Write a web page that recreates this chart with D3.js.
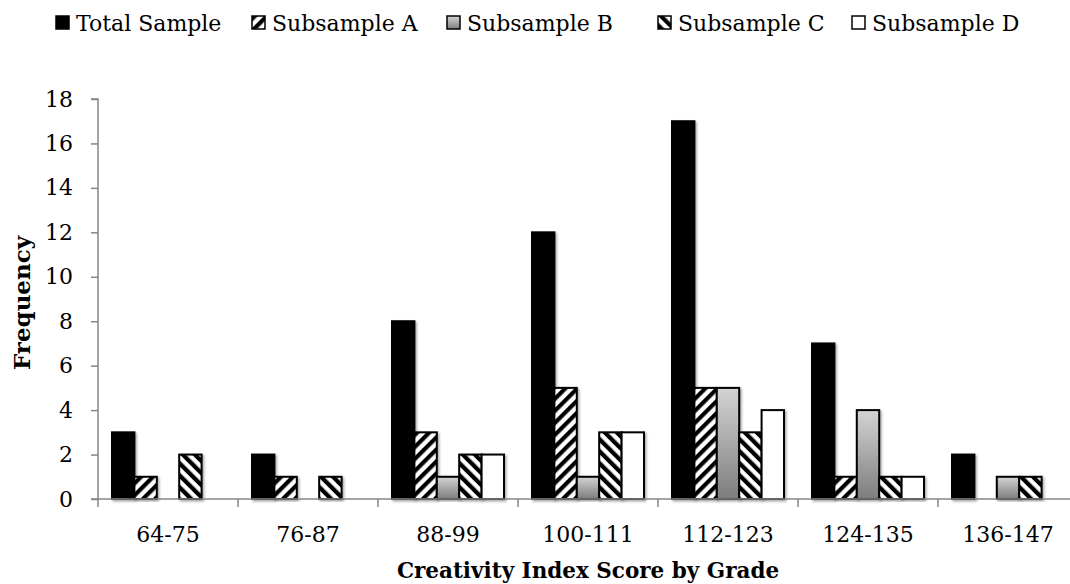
<!DOCTYPE html>
<html>
<head>
<meta charset="utf-8">
<script src="https://cdn.jsdelivr.net/npm/d3@7"></script>
<style>
  body { margin: 0; background: #fff; }
  svg { display: block; font-family: "DejaVu Serif", serif; }
</style>
</head>
<body>
<svg id="svg0" width="1070" height="584"></svg>
<script>

var categories = ['64-75', '76-87', '88-99', '100-111', '112-123', '124-135', '136-147'];
var seriesNames = ['Total Sample', 'Subsample A', 'Subsample B', 'Subsample C', 'Subsample D'];

var totalSample = [3, 2, 8, 12, 17, 7, 2];
var subsampleA = [1, 1, 3, 5, 5, 1, 0];
var subsampleB = [0, 0, 1, 1, 5, 4, 1];
var subsampleC = [2, 1, 2, 3, 3, 1, 1];
var subsampleD = [0, 0, 2, 3, 4, 1, 0];

var yTicks = [0, 2, 4, 6, 8, 10, 12, 14, 16, 18];

var series = [totalSample, subsampleA, subsampleB, subsampleC, subsampleD];
var fills = ['#000', 'url(#hatchA)', 'url(#gradB)', 'url(#hatchC)', '#fff'];

var fontFam = '"DejaVu Serif", serif';

var svg0 = d3.select('#svg0');
var defs0 = svg0.append('defs');

// stripes "/" for A
defs0.append('pattern')
    .attr('id', 'hatchA')
    .attr('width', 8.5)
    .attr('height', 8.5)
    .attr('patternUnits', 'userSpaceOnUse')
    .attr('patternTransform', 'rotate(45)')
    .call(function(p) {
        p.append('rect').attr('width', 8.5).attr('height', 8.5).attr('fill', '#fff');
        p.append('rect').attr('width', 4.2).attr('height', 8.5).attr('fill', '#000');
    });

// stripes "\" for C
defs0.append('pattern')
    .attr('id', 'hatchC')
    .attr('width', 8.5)
    .attr('height', 8.5)
    .attr('patternUnits', 'userSpaceOnUse')
    .attr('patternTransform', 'rotate(-45)')
    .call(function(p) {
        p.append('rect').attr('width', 8.5).attr('height', 8.5).attr('fill', '#fff');
        p.append('rect').attr('width', 4.2).attr('height', 8.5).attr('fill', '#000');
    });

var grad = defs0.append('linearGradient')
    .attr('id', 'gradB')
    .attr('x1', 0).attr('y1', 0).attr('x2', 0).attr('y2', 1);
grad.append('stop').attr('offset', '0%').attr('stop-color', '#d4d4d4');
grad.append('stop').attr('offset', '100%').attr('stop-color', '#7d7d7d');

var shadow = defs0.append('filter')
    .attr('id', 'shadow')
    .attr('x', '-20%').attr('y', '-5%').attr('width', '150%').attr('height', '115%');
shadow.append('feDropShadow')
    .attr('dx', 1.5).attr('dy', 1.5).attr('stdDeviation', 1.2)
    .attr('flood-color', '#000').attr('flood-opacity', 0.35);

var x0 = d3.scaleBand()
    .domain(categories)
    .range([98, 1078]);

var x1 = d3.scaleBand()
    .domain(d3.range(seriesNames.length))
    .range([14, x0.bandwidth() - 14]);

var y = d3.scaleLinear()
    .domain([0, 18])
    .range([499, 99]);

// bars
var groups = svg0.append('g')
    .selectAll('g')
    .data(categories)
    .enter()
    .append('g')
    .attr('transform', function(d) { return 'translate(' + x0(d) + ',0)'; });

groups.selectAll('rect')
    .data(function(d, i) {
        return series.map(function(s, k) { return { k: k, v: s[i] }; })
            .filter(function(e) { return e.v > 0; });
    })
    .enter()
    .append('rect')
    .attr('x', function(d) { return x1(d.k); })
    .attr('y', function(d) { return y(d.v); })
    .attr('width', x1.bandwidth())
    .attr('height', function(d) { return y(0) - y(d.v); })
    .attr('fill', function(d) { return fills[d.k]; })
    .attr('stroke', '#000')
    .attr('stroke-width', 2)
    .attr('filter', 'url(#shadow)');

// y axis
var yAxis = svg0.append('g')
    .attr('transform', 'translate(98,0)')
    .call(d3.axisLeft(y).tickValues(yTicks).tickSize(7).tickPadding(18));
yAxis.selectAll('path, line').attr('stroke', '#868686').attr('stroke-width', 1.5);
yAxis.select('.domain').attr('d', 'M-7,99H0V499');
yAxis.selectAll('text')
    .attr('font-family', fontFam)
    .attr('font-size', 22)
    .attr('fill', '#000');

// x axis
var xAxisG = svg0.append('g')
    .attr('transform', 'translate(0,499)');
xAxisG.append('line')
    .attr('x1', 91).attr('x2', 1078)
    .attr('stroke', '#868686').attr('stroke-width', 1.5);
xAxisG.selectAll('.tick')
    .data(categories)
    .enter()
    .append('line')
    .attr('x1', function(d) { return x0(d); })
    .attr('x2', function(d) { return x0(d); })
    .attr('y1', 0).attr('y2', 8)
    .attr('stroke', '#868686').attr('stroke-width', 1.5);
xAxisG.selectAll('text')
    .data(categories)
    .enter()
    .append('text')
    .attr('x', function(d) { return x0(d) + x0.bandwidth() / 2; })
    .attr('y', 43)
    .attr('text-anchor', 'middle')
    .attr('font-size', 22)
    .text(function(d) { return d; });

// axis titles
svg0.append('text')
    .attr('x', 588)
    .attr('y', 578)
    .attr('text-anchor', 'middle')
    .attr('font-size', 21.5)
    .attr('font-weight', 'bold')
    .text('Creativity Index Score by Grade');

svg0.append('text')
    .attr('transform', 'translate(30,303) rotate(-90)')
    .attr('text-anchor', 'middle')
    .attr('font-size', 23)
    .attr('font-weight', 'bold')
    .text('Frequency');

// legend
var legendX = [56, 252, 447, 658, 852];
var legend = svg0.append('g')
    .selectAll('g')
    .data(seriesNames)
    .enter()
    .append('g')
    .attr('transform', function(d, i) { return 'translate(' + legendX[i] + ',16)'; });

legend.append('rect')
    .attr('width', 13)
    .attr('height', 13)
    .attr('fill', function(d, i) { return fills[i]; })
    .attr('stroke', '#000')
    .attr('stroke-width', 1.5);

legend.append('text')
    .attr('x', 20)
    .attr('y', 14.5)
    .attr('font-size', 22)
    .text(function(d) { return d; });

</script>
</body>
</html>
